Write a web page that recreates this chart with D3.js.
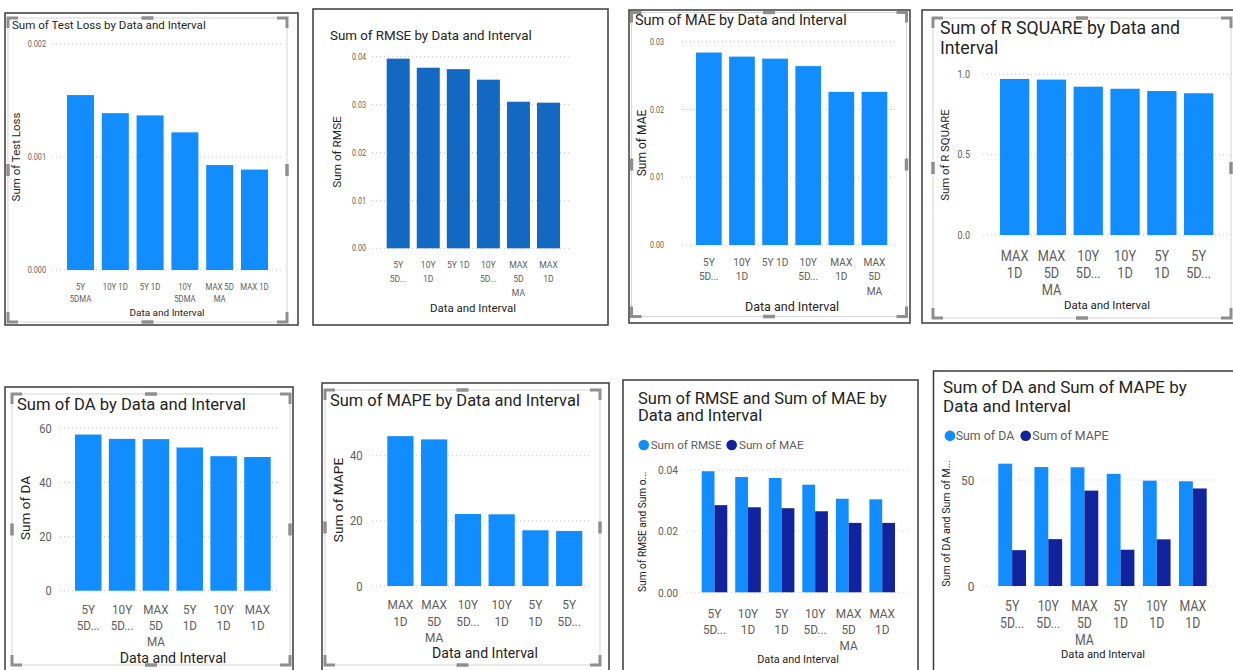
<!DOCTYPE html>
<html><head><meta charset="utf-8">
<script src="https://cdn.jsdelivr.net/npm/d3@7"></script>
<style>
html,body{margin:0;padding:0;background:#fff;overflow:hidden;}
svg{display:block;font-family:Roboto,"Noto Sans",sans-serif;}
</style></head><body>
<svg id="c" width="1233" height="670"></svg>
<script>
// ---------- data ----------
const testLossCats = ["5Y|5DMA", "10Y 1D", "5Y 1D", "10Y|5DMA", "MAX 5D|MA", "MAX 1D"];
const testLossVals = [0.00155, 0.00139, 0.00137, 0.00122, 0.00093, 0.00089];

const rmseCats = ["5Y|5D...", "10Y|1D", "5Y 1D", "10Y|5D...", "MAX|5D|MA", "MAX|1D"];
const rmseVals = [0.0396, 0.0377, 0.0374, 0.0352, 0.0306, 0.0304];

const maeCats = ["5Y|5D...", "10Y|1D", "5Y 1D", "10Y|5D...", "MAX|1D", "MAX|5D|MA"];
const maeVals = [0.0284, 0.0278, 0.0275, 0.0264, 0.0226, 0.0226];

const rsqCats = ["MAX|1D", "MAX|5D|MA", "10Y|5D...", "10Y|1D", "5Y|1D", "5Y|5D..."];
const rsqVals = [0.971, 0.967, 0.923, 0.910, 0.896, 0.882];

const daCats = ["5Y|5D...", "10Y|5D...", "MAX|5D|MA", "5Y|1D", "10Y|1D", "MAX|1D"];
const daVals = [57.7, 56.1, 56.0, 52.9, 49.7, 49.4];

const mapeCats = ["MAX|1D", "MAX|5D|MA", "10Y|5D...", "10Y|1D", "5Y|1D", "5Y|5D..."];
const mapeVals = [46.0, 45.0, 22.1, 22.0, 17.1, 16.9];

const comboRmseMaeCats = ["5Y|5D...", "10Y|1D", "5Y|1D", "10Y|5D...", "MAX|5D|MA", "MAX|1D"];
const comboRmseVals = [0.0396, 0.0377, 0.0374, 0.0352, 0.0306, 0.0304];
const comboMaeVals = [0.0285, 0.0278, 0.0275, 0.0265, 0.0227, 0.0227];
const comboRmseMaeNames = ["Sum of RMSE", "Sum of MAE"];

const comboDaMapeCats = ["5Y|5D...", "10Y|5D...", "MAX|5D|MA", "5Y|1D", "10Y|1D", "MAX|1D"];
const comboDaVals = [57.7, 56.1, 56.0, 52.9, 49.7, 49.4];
const comboMapeVals = [16.9, 22.1, 45.0, 17.1, 22.0, 46.0];
const comboDaMapeNames = ["Sum of DA", "Sum of MAPE"];

const xAxisTitle = "Data and Interval";

// ---------- styles ----------
const C1 = "#118DFF", C2 = "#12239E", CR = "#1368C1";
const TXT = "#252423", TICK = "#605E5C";
const NARROW = 1.14; // the report font is narrower than Roboto for small labels

const svg = d3.select("#c");

// font size that makes `text` about `width` pixels wide
function sizeFor(text, width) {
  const t = svg.append("text").attr("font-size", 100).text(text);
  const w = t.node().getComputedTextLength();
  t.remove();
  return 100 * width / w;
}
// squeeze glyphs horizontally by factor k (text stays real text)
function condense(sel, k) {
  sel.each(function () {
    const L = this.getComputedTextLength();
    d3.select(this).attr("textLength", L / k).attr("lengthAdjust", "spacingAndGlyphs");
  });
}

function focusFrame(g, x, y, w, h) {
  g.append("rect").attr("x", x).attr("y", y).attr("width", w).attr("height", h)
    .attr("fill", "none").attr("stroke", "#d6d6d6").attr("stroke-width", 1);
  const L = 10, col = "#8f8f8f", sw = 3;
  const corners = [[x, y, 1, 1], [x + w, y, -1, 1], [x, y + h, 1, -1], [x + w, y + h, -1, -1]];
  corners.forEach(([cx, cy, sx, sy]) => {
    g.append("path").attr("d", `M${cx + sx * L},${cy} L${cx},${cy} L${cx},${cy + sy * L}`)
      .attr("fill", "none").attr("stroke", col).attr("stroke-width", sw);
  });
  const mx = x + w / 2, my = y + h / 2;
  [[mx - 6, y, mx + 6, y], [mx - 6, y + h, mx + 6, y + h], [x, my - 6, x, my + 6], [x + w, my - 6, x + w, my + 6]]
    .forEach(([a, b, c, d]) => g.append("line").attr("x1", a).attr("y1", b).attr("x2", c).attr("y2", d)
      .attr("stroke", col).attr("stroke-width", 3.5));
}

function panel(cfg) {
  const g = svg.append("g");
  const f = cfg.frame;
  g.append("rect").attr("x", f[0]).attr("y", f[1]).attr("width", f[2]).attr("height", f[3])
    .attr("fill", "none").attr("stroke", "#3b3b3b").attr("stroke-width", 1.5);
  if (cfg.focus) focusFrame(g, ...cfg.focus);

  const titleSize = sizeFor(cfg.title.lines[0], cfg.title.w);
  cfg.title.lines.forEach((t, i) => g.append("text")
    .attr("x", cfg.title.x).attr("y", cfg.title.y + i * (cfg.title.lh || 0)).attr("dy", "0.35em")
    .attr("font-size", titleSize).attr("fill", TXT).text(t));

  const n = cfg.cats.length, p = cfg.pad;
  const step = (cfg.b1 - cfg.b0) / (n - p);
  const x = d3.scaleBand().domain(d3.range(n))
    .range([cfg.b0 - p * step / 2, cfg.b1 + p * step / 2]).paddingInner(p).paddingOuter(p / 2);
  const y = d3.scaleLinear().domain([0, cfg.yMax]).range([cfg.y0, cfg.yTop]);

  g.append("g").selectAll("line").data(cfg.ticks).join("line")
    .attr("x1", cfg.gx0).attr("x2", cfg.gx1).attr("y1", d => y(d)).attr("y2", d => y(d))
    .attr("stroke", "#c8c6c4").attr("stroke-width", 1).attr("stroke-dasharray", "1,3");

  const tickSize = sizeFor(cfg.fmt(cfg.ticks[cfg.ticks.length - 1]), cfg.tickW) * NARROW;
  const ax = g.append("g").attr("transform", `translate(${cfg.tickX},0)`)
    .call(d3.axisLeft(y).tickValues(cfg.ticks).tickFormat(cfg.fmt).tickSize(0).tickPadding(0));
  ax.attr("font-family", null).attr("font-size", null);
  ax.select(".domain").remove();
  ax.selectAll("text").attr("fill", TICK).attr("font-size", tickSize);
  condense(ax.selectAll("text"), NARROW);

  const xi = d3.scaleBand().domain(d3.range(cfg.series.length)).range([0, x.bandwidth()]);
  cfg.series.forEach((s, si) => {
    g.append("g").selectAll("rect").data(s.vals).join("rect")
      .attr("x", (d, i) => x(i) + xi(si)).attr("width", xi.bandwidth())
      .attr("y", d => y(d)).attr("height", d => y(0) - y(d)).attr("fill", s.color);
  });

  if (cfg.legend) {
    const lsz = sizeFor(cfg.series[0].name, cfg.legend.w);
    const lg = g.append("g");
    cfg.series.forEach((s, si) => {
      lg.append("circle").attr("cx", cfg.legend.cx[si]).attr("cy", cfg.legend.y).attr("r", 5.3).attr("fill", s.color);
      lg.append("text").attr("x", cfg.legend.tx[si]).attr("y", cfg.legend.y).attr("dy", "0.35em")
        .attr("font-size", lsz).attr("fill", TICK).text(s.name);
    });
  }

  const xlSize = sizeFor(cfg.xlab.sample, cfg.xlab.w) * NARROW;
  const xl = g.append("g");
  cfg.cats.forEach((c, i) => {
    const t = xl.append("text").attr("text-anchor", "middle").attr("font-size", xlSize).attr("fill", TICK);
    c.split("|").forEach((ln, j) => t.append("tspan").attr("x", x(i) + x.bandwidth() / 2)
      .attr("y", cfg.xlab.y + j * cfg.xlab.lh).text(ln));
  });
  condense(xl.selectAll("tspan"), NARROW);

  g.append("text").attr("x", cfg.xTitle.x).attr("y", cfg.xTitle.y).attr("dy", "0.35em")
    .attr("text-anchor", "middle").attr("font-size", sizeFor(xAxisTitle, cfg.xTitle.w))
    .attr("fill", TXT).text(xAxisTitle);
  g.append("text").attr("transform", `translate(${cfg.yTitle.x},${cfg.yTitle.y}) rotate(-90)`)
    .attr("dy", "0.35em").attr("text-anchor", "middle").attr("font-size", sizeFor(cfg.yTitle.text, cfg.yTitle.w))
    .attr("fill", TXT).text(cfg.yTitle.text);
}

const f3 = d3.format(".3f"), f2 = d3.format(".2f"), f1 = d3.format(".1f"), f0 = d3.format("d");

panel({
  frame: [5, 13, 293, 312], focus: [8, 18, 279, 304],
  title: { x: 12, y: 25, w: 194, lines: ["Sum of Test Loss by Data and Interval"] },
  cats: testLossCats, series: [{ vals: testLossVals, color: C1 }],
  b0: 67, b1: 268, pad: 0.224,
  y0: 270, yTop: 44.3, yMax: 0.002, ticks: [0, 0.001, 0.002], fmt: f3, tickX: 46, tickW: 18.3,
  gx0: 52, gx1: 283,
  xlab: { y: 289.5, lh: 12.3, sample: "10Y 1D", w: 25 },
  xTitle: { x: 167, y: 313, w: 75 },
  yTitle: { x: 16, y: 157, w: 89, text: "Sum of Test Loss" }
});

panel({
  frame: [313, 9, 295, 316],
  title: { x: 330, y: 35, w: 202, lines: ["Sum of RMSE by Data and Interval"] },
  cats: rmseCats, series: [{ vals: rmseVals, color: CR }],
  b0: 386.7, b1: 560, pad: 0.235,
  y0: 248.3, yTop: 56.7, yMax: 0.04, ticks: [0, 0.01, 0.02, 0.03, 0.04], fmt: f2, tickX: 366, tickW: 14,
  gx0: 372, gx1: 570,
  xlab: { y: 268, lh: 14, sample: "5Y 1D", w: 22.6 },
  xTitle: { x: 473, y: 308, w: 86 },
  yTitle: { x: 337, y: 152, w: 71.7, text: "Sum of RMSE" }
});

panel({
  frame: [629, 10, 281, 313], focus: [631.5, 12.5, 275, 304],
  title: { x: 635, y: 20, w: 212, lines: ["Sum of MAE by Data and Interval"] },
  cats: maeCats, series: [{ vals: maeVals, color: C1 }],
  b0: 696, b1: 887.3, pad: 0.224,
  y0: 245, yTop: 41.7, yMax: 0.03, ticks: [0, 0.01, 0.02, 0.03], fmt: f2, tickX: 664, tickW: 14,
  gx0: 682, gx1: 898,
  xlab: { y: 265.6, lh: 14.7, sample: "5Y 1D", w: 26.7 },
  xTitle: { x: 792, y: 306.7, w: 94.3 },
  yTitle: { x: 642, y: 143, w: 66.7, text: "Sum of MAE" }
});

panel({
  frame: [922, 10, 330, 313], focus: [933, 18, 298, 300],
  title: { x: 940, y: 28.3, lh: 20, w: 240, lines: ["Sum of R SQUARE by Data and", "Interval"] },
  cats: rsqCats, series: [{ vals: rsqVals, color: C1 }],
  b0: 1000, b1: 1213.3, pad: 0.204,
  y0: 235, yTop: 74.3, yMax: 1, ticks: [0, 0.5, 1], fmt: f1, tickX: 970, tickW: 12.5,
  gx0: 983, gx1: 1232,
  xlab: { y: 260.7, lh: 17, sample: "MAX", w: 27.6 },
  xTitle: { x: 1107, y: 305, w: 86 },
  yTitle: { x: 945, y: 155, w: 91.7, text: "Sum of R SQUARE" }
});

panel({
  frame: [5, 387, 288, 300], focus: [12, 394, 278, 271],
  title: { x: 17, y: 404, w: 229, lines: ["Sum of DA by Data and Interval"] },
  cats: daCats, series: [{ vals: daVals, color: C1 }],
  b0: 75, b1: 270.7, pad: 0.217,
  y0: 590.7, yTop: 428.3, yMax: 60, ticks: [0, 20, 40, 60], fmt: f0, tickX: 51.7, tickW: 12.4,
  gx0: 60, gx1: 280,
  xlab: { y: 614.2, lh: 15.9, sample: "MAX", w: 25.3 },
  xTitle: { x: 173, y: 658.3, w: 106.7 },
  yTitle: { x: 25, y: 508, w: 64, text: "Sum of DA" }
});

panel({
  frame: [322, 383, 287, 300], focus: [325, 390, 275, 275],
  title: { x: 330, y: 400, w: 250, lines: ["Sum of MAPE by Data and Interval"] },
  cats: mapeCats, series: [{ vals: mapeVals, color: C1 }],
  b0: 387.3, b1: 582.3, pad: 0.224,
  y0: 586, yTop: 455.7, yMax: 40, ticks: [0, 20, 40], fmt: f0, tickX: 362.7, tickW: 12.7,
  gx0: 372, gx1: 592,
  xlab: { y: 609.2, lh: 16.3, sample: "MAX", w: 25.7 },
  xTitle: { x: 485, y: 653.3, w: 106 },
  yTitle: { x: 338.3, y: 500, w: 84.4, text: "Sum of MAPE" }
});

panel({
  frame: [623, 380, 295, 300],
  title: { x: 638, y: 398.3, lh: 17.4, w: 249, lines: ["Sum of RMSE and Sum of MAE by", "Data and Interval"] },
  legend: { y: 445, cx: [643.8, 731.7], tx: [650.7, 739], w: 71 },
  cats: comboRmseMaeCats,
  series: [{ vals: comboRmseVals, color: C1, name: comboRmseMaeNames[0] },
           { vals: comboMaeVals, color: C2, name: comboRmseMaeNames[1] }],
  b0: 701.7, b1: 895, pad: 0.237,
  y0: 592.3, yTop: 470, yMax: 0.04, ticks: [0, 0.02, 0.04], fmt: f2, tickX: 678, tickW: 20,
  gx0: 686.7, gx1: 910,
  xlab: { y: 618.3, lh: 15.7, sample: "MAX", w: 25.6 },
  xTitle: { x: 798, y: 659, w: 81.7 },
  yTitle: { x: 642.7, y: 531.7, w: 120.6, text: "Sum of RMSE and Sum o..." }
});

panel({
  frame: [933.5, 371, 310, 310],
  title: { x: 943, y: 386.7, lh: 19, w: 244, lines: ["Sum of DA and Sum of MAPE by", "Data and Interval"] },
  legend: { y: 435.7, cx: [950, 1025.7], tx: [955.7, 1032.3], w: 58.6 },
  cats: comboDaMapeCats,
  series: [{ vals: comboDaVals, color: C1, name: comboDaMapeNames[0] },
           { vals: comboMapeVals, color: C2, name: comboDaMapeNames[1] }],
  b0: 998.3, b1: 1206.7, pad: 0.234,
  y0: 586, yTop: 480, yMax: 50, ticks: [0, 50], fmt: f0, tickX: 974.3, tickW: 13.3,
  gx0: 982.3, gx1: 1218,
  xlab: { y: 610.7, lh: 17, sample: "MAX", w: 26.6 },
  xTitle: { x: 1103, y: 654.3, w: 84 },
  yTitle: { x: 946.7, y: 523.3, w: 127, text: "Sum of DA and Sum of M..." }
});
</script>
</body></html>
